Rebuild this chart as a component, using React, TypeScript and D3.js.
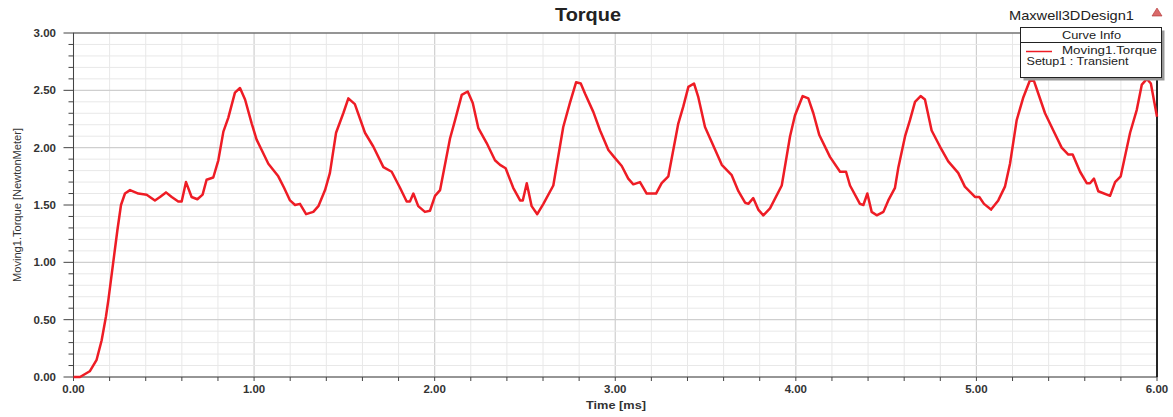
import React, { useRef, useEffect } from "react";
import * as d3 from "d3";

// Moving1.Torque
const timeMs = [
  0, 0.036, 0.09, 0.128, 0.156, 0.18, 0.193, 0.243, 0.263, 0.285, 0.313, 0.359, 0.405, 0.451, 0.479, 0.512,
  0.544, 0.58, 0.599, 0.623, 0.654, 0.686, 0.715, 0.737, 0.774, 0.802, 0.83, 0.857, 0.894, 0.922, 0.95,
  0.987, 1.014, 1.042, 1.079, 1.134, 1.166, 1.199, 1.227, 1.254, 1.288, 1.328, 1.356, 1.393, 1.42, 1.454,
  1.494, 1.522, 1.558, 1.614, 1.66, 1.716, 1.762, 1.808, 1.845, 1.863, 1.882, 1.909, 1.946, 1.974, 2.002,
  2.03, 2.085, 2.113, 2.15, 2.183, 2.211, 2.242, 2.288, 2.334, 2.362, 2.393, 2.435, 2.473, 2.488, 2.51,
  2.537, 2.568, 2.602, 2.657, 2.712, 2.749, 2.783, 2.809, 2.833, 2.879, 2.916, 2.962, 2.993, 3.036, 3.072,
  3.1, 3.137, 3.174, 3.226, 3.257, 3.294, 3.349, 3.377, 3.405, 3.436, 3.46, 3.497, 3.534, 3.59, 3.645,
  3.682, 3.719, 3.737, 3.764, 3.792, 3.82, 3.857, 3.922, 3.968, 3.995, 4.038, 4.069, 4.097, 4.13, 4.189,
  4.245, 4.278, 4.3, 4.355, 4.374, 4.396, 4.42, 4.448, 4.485, 4.512, 4.549, 4.568, 4.605, 4.632, 4.66,
  4.691, 4.715, 4.752, 4.798, 4.844, 4.899, 4.936, 4.992, 5.016, 5.042, 5.081, 5.121, 5.158, 5.186, 5.223,
  5.26, 5.297, 5.319, 5.343, 5.38, 5.426, 5.472, 5.509, 5.533, 5.574, 5.611, 5.629, 5.651, 5.675, 5.74,
  5.768, 5.799, 5.851, 5.888, 5.916, 5.944, 5.966, 6.0,
];
const torque = [
  0, 0, 0.05, 0.15, 0.32, 0.53, 0.67, 1.28, 1.5, 1.6, 1.63, 1.6, 1.59, 1.54, 1.57, 1.61,
  1.57, 1.53, 1.53, 1.7, 1.57, 1.55, 1.59, 1.72, 1.74, 1.89, 2.14, 2.26, 2.48, 2.52, 2.42,
  2.21, 2.07, 1.98, 1.86, 1.75, 1.65, 1.54, 1.5, 1.51, 1.42, 1.44, 1.49, 1.63, 1.78, 2.13,
  2.3, 2.43, 2.38, 2.13, 2.01, 1.83, 1.79, 1.65, 1.53, 1.53, 1.6, 1.49, 1.44, 1.45, 1.58,
  1.63, 2.08, 2.24, 2.46, 2.49, 2.39, 2.17, 2.04, 1.89, 1.85, 1.82, 1.65, 1.54, 1.54, 1.69,
  1.49, 1.42, 1.51, 1.67, 2.18, 2.39, 2.57, 2.56, 2.47, 2.31, 2.15, 1.98, 1.92, 1.84, 1.73,
  1.68, 1.7, 1.6, 1.6, 1.69, 1.75, 2.21, 2.36, 2.53, 2.56, 2.44, 2.18, 2.05, 1.85, 1.76,
  1.62, 1.52, 1.51, 1.56, 1.46, 1.41, 1.47, 1.67, 2.1, 2.28, 2.45, 2.43, 2.3, 2.11, 1.92,
  1.79, 1.79, 1.67, 1.51, 1.5, 1.6, 1.44, 1.41, 1.44, 1.54, 1.65, 1.83, 2.1, 2.24, 2.4,
  2.45, 2.42, 2.15, 2.01, 1.88, 1.78, 1.66, 1.57, 1.57, 1.51, 1.46, 1.54, 1.66, 1.86, 2.24,
  2.44, 2.59, 2.58, 2.47, 2.3, 2.15, 2.0, 1.94, 1.94, 1.79, 1.69, 1.69, 1.73, 1.62, 1.58,
  1.7, 1.75, 2.13, 2.33, 2.55, 2.6, 2.56, 2.27,
];
const xTicks = [0, 1, 2, 3, 4, 5, 6];
const yTicks = [0, 0.5, 1, 1.5, 2, 2.5, 3];

const W = 1173;
const H = 417;
const FONT = "'Liberation Sans', Arial, sans-serif";

const TorqueChart = () => {
  const svgRef = useRef(null);

  useEffect(() => {
    document.body.style.margin = "0";
    const svg = d3.select(svgRef.current);
    svg.selectAll("*").remove();

    const m = { left: 73.5, right: 1157, top: 33, bottom: 377 };
    const x = d3.scaleLinear().domain([0, 6]).range([m.left, m.right]);
    const y = d3.scaleLinear().domain([0, 3]).range([m.bottom, m.top]);

    svg.append("rect").attr("width", W).attr("height", H).attr("fill", "#fff");

    // grid
    const grid = svg.append("g");
    d3.range(0, 6.0001, 0.2).forEach((t) => {
      const major = Math.abs(t - Math.round(t)) < 1e-6;
      grid.append("line")
        .attr("x1", x(t)).attr("x2", x(t)).attr("y1", m.top).attr("y2", m.bottom)
        .attr("stroke", major ? "#cfcfcf" : "#e8e8e8").attr("stroke-width", major ? 1.2 : 1);
    });
    d3.range(0, 3.0001, 0.1).forEach((v) => {
      const major = Math.abs(v * 2 - Math.round(v * 2)) < 1e-6;
      grid.append("line")
        .attr("x1", m.left).attr("x2", m.right).attr("y1", y(v)).attr("y2", y(v))
        .attr("stroke", major ? "#cfcfcf" : "#e8e8e8").attr("stroke-width", major ? 1.2 : 1);
    });

    // frame
    svg.append("rect")
      .attr("x", m.left).attr("y", m.top)
      .attr("width", m.right - m.left).attr("height", m.bottom - m.top)
      .attr("fill", "none").attr("stroke", "#444").attr("stroke-width", 1);
    svg.append("line")
      .attr("x1", m.right).attr("x2", m.right).attr("y1", m.top).attr("y2", m.bottom)
      .attr("stroke", "#000").attr("stroke-width", 1.5);

    // y ticks
    d3.range(0, 3.0001, 0.1).forEach((v) => {
      const major = Math.abs(v * 2 - Math.round(v * 2)) < 1e-6;
      svg.append("line")
        .attr("x1", m.left - (major ? 10 : 5)).attr("x2", m.left)
        .attr("y1", y(v)).attr("y2", y(v))
        .attr("stroke", "#444").attr("stroke-width", 1);
    });
    svg.selectAll(".ylab").data(yTicks).enter().append("text")
      .attr("x", 56).attr("y", (d) => y(d) + 4)
      .attr("text-anchor", "end").attr("font-family", FONT).attr("font-size", 11.5)
      .attr("font-weight", "bold").attr("fill", "#333")
      .text((d) => d.toFixed(2));

    // x ticks
    d3.range(0, 6.0001, 0.2).forEach((t) => {
      svg.append("line")
        .attr("x1", x(t)).attr("x2", x(t)).attr("y1", m.bottom).attr("y2", m.bottom + 4)
        .attr("stroke", "#444").attr("stroke-width", 1);
    });
    svg.selectAll(".xlab").data(xTicks).enter().append("text")
      .attr("x", (d) => x(d)).attr("y", 393)
      .attr("text-anchor", "middle").attr("font-family", FONT).attr("font-size", 11.5)
      .attr("font-weight", "bold").attr("fill", "#333")
      .text((d) => d.toFixed(2));

    // curve
    const line = d3.line().x((d) => x(d[0])).y((d) => y(d[1]));
    svg.append("path")
      .datum(timeMs.map((t, i) => [t, torque[i]]))
      .attr("d", line)
      .attr("fill", "none").attr("stroke", "#ee1c25")
      .attr("stroke-width", 2.5).attr("stroke-linejoin", "round");

    // titles
    svg.append("text").attr("x", 555).attr("y", 21)
      .attr("font-family", FONT).attr("font-size", 19).attr("font-weight", "bold")
      .attr("textLength", 66).attr("lengthAdjust", "spacingAndGlyphs")
      .attr("fill", "#222").text("Torque");
    svg.append("text").attr("x", 586).attr("y", 408.5)
      .attr("font-family", FONT).attr("font-size", 11.5).attr("font-weight", "bold")
      .attr("textLength", 60).attr("lengthAdjust", "spacingAndGlyphs")
      .attr("fill", "#333").text("Time [ms]");
    svg.append("text")
      .attr("transform", "translate(21,205) rotate(-90)").attr("text-anchor", "middle")
      .attr("font-family", FONT).attr("font-size", 11).attr("fill", "#333")
      .attr("textLength", 154).attr("lengthAdjust", "spacingAndGlyphs")
      .text("Moving1.Torque [NewtonMeter]");

    svg.append("text").attr("x", 1009).attr("y", 20)
      .attr("font-family", FONT).attr("font-size", 13.5).attr("fill", "#222")
      .attr("textLength", 125).attr("lengthAdjust", "spacingAndGlyphs")
      .text("Maxwell3DDesign1");
    svg.append("path")
      .attr("d", "M1157,8 L1162,16 L1152,16 Z")
      .attr("fill", "#d96a6a").attr("stroke", "#b03030").attr("stroke-width", 0.6);

    // legend box
    const lg = svg.append("g");
    lg.append("rect").attr("x", 1023.5).attr("y", 30.5).attr("width", 141).attr("height", 50).attr("fill", "#999");
    lg.append("rect").attr("x", 1020.5).attr("y", 27.5).attr("width", 141).attr("height", 50)
      .attr("fill", "#fff").attr("stroke", "#222").attr("stroke-width", 1);
    lg.append("line").attr("x1", 1020.5).attr("x2", 1161.5).attr("y1", 42.5).attr("y2", 42.5)
      .attr("stroke", "#222").attr("stroke-width", 1);
    lg.append("text").attr("x", 1062).attr("y", 38.5)
      .attr("font-family", FONT).attr("font-size", 11.5).attr("fill", "#222")
      .attr("textLength", 59).attr("lengthAdjust", "spacingAndGlyphs").text("Curve Info");
    lg.append("line").attr("x1", 1026).attr("x2", 1052).attr("y1", 51.5).attr("y2", 51.5)
      .attr("stroke", "#ee1c25").attr("stroke-width", 1.5);
    lg.append("text").attr("x", 1062).attr("y", 54)
      .attr("font-family", FONT).attr("font-size", 11.5).attr("fill", "#222")
      .attr("textLength", 95).attr("lengthAdjust", "spacingAndGlyphs").text("Moving1.Torque");
    lg.append("text").attr("x", 1026.5).attr("y", 64.5)
      .attr("font-family", FONT).attr("font-size", 11.5).attr("fill", "#222")
      .attr("textLength", 102).attr("lengthAdjust", "spacingAndGlyphs").text("Setup1 : Transient");
  }, []);

  return <svg ref={svgRef} width={W} height={H} style={{ display: "block" }}></svg>;
};

export default function App() {
  return <TorqueChart />;
}
